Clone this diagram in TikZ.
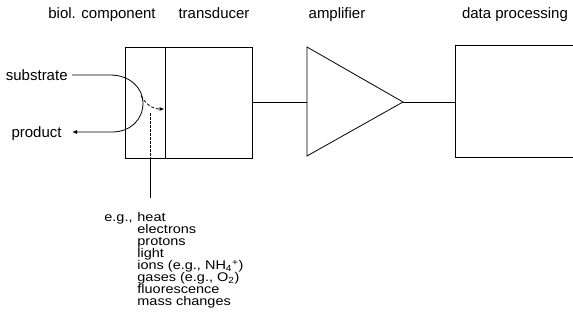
\documentclass[tikz,border=0pt]{standalone}
\usepackage{fontspec}
\setmainfont{Liberation Sans}
\newfontfamily\lstfont[FakeStretch=1.15]{Liberation Sans}
\usetikzlibrary{arrows.meta}
\begin{document}
\begin{tikzpicture}[x=1pt,y=-1pt, line width=0.8pt,
  lbl/.style={font=\fontsize{15}{18}\selectfont, inner sep=0pt},
  lst/.style={font=\lstfont\fontsize{12.6}{12}\selectfont, inner sep=0pt},
  boxnode/.style={draw, inner sep=0pt, outer sep=0pt},
  tip/.style={-{Latex[length=5pt,width=4pt]}}]
\useasboundingbox (0,0) rectangle (573,332);
% headings
\node[lbl, anchor=base] (hbio) at (102,19) {biol. component};
\node[lbl, anchor=base] (htr) at (214,19) {transducer};
\node[lbl, anchor=base] (hamp) at (337,19) {amplifier};
\node[lbl, anchor=base] (hdat) at (515,19) {data processing};
% boxes
\node[boxnode, minimum width=40, minimum height=111] (bio) at (145,102.5) {};
\node[boxnode, minimum width=87, minimum height=111] (trans) at (208.5,102.5) {};
% amplifier
\coordinate (a1) at (307,47);
\coordinate (a2) at (307,156);
\coordinate (atip) at (403,102);
\coordinate (ain) at (307,102.5);
\draw (a1) -- (atip) -- (a2) -- cycle;
% data processing box (open to the right)
\coordinate (d1) at (455,45);
\coordinate (d2) at (455,157);
\coordinate (din) at (455,102);
\draw (574,45) -- (d1) -- (d2) -- (574,157);
% connectors
\draw (trans.east) -- (ain);
\draw (atip) -- (din);
% substrate / product
\node[lbl, anchor=base east] (sub) at (68,80) {substrate};
\node[lbl, anchor=base east] (prod) at (62,137) {product};
\coordinate (sIn) at (72,75);
\coordinate (pOut) at (72,132);
\draw[tip] (sIn) -- (110,75) .. controls (130,75) and (143,88) .. (143,103)
  .. controls (143,120) and (130,132) .. (112,132) -- (pOut);
\coordinate (dStart) at (141,96);
\coordinate (dEnd) at (164.5,109);
\draw[tip, dash pattern=on 3pt off 2pt] (dStart) .. controls (146,104) and (152,109) .. (dEnd);
% signal line
\coordinate (vTop) at (150,113);
\coordinate (vMid) at (150,158);
\coordinate (vBot) at (150,198);
\draw[line width=0.5pt, dash pattern=on 3pt off 1pt] (vTop) -- (vMid);
\draw (vMid) -- (vBot);
% list
\node[lst, anchor=base east] (eg) at (133,221) {e.g.,};
\foreach \t [count=\i from 0] in {heat, electrons, protons, light,
  {ions (e.g., NH\textsubscript{4}\textsuperscript{+})},
  {gases (e.g., O\textsubscript{2})}, fluorescence, mass changes}
  \node[lst, anchor=base west] (l\i) at (137,{221+12.1*\i}) {\t};
\end{tikzpicture}
\end{document}
